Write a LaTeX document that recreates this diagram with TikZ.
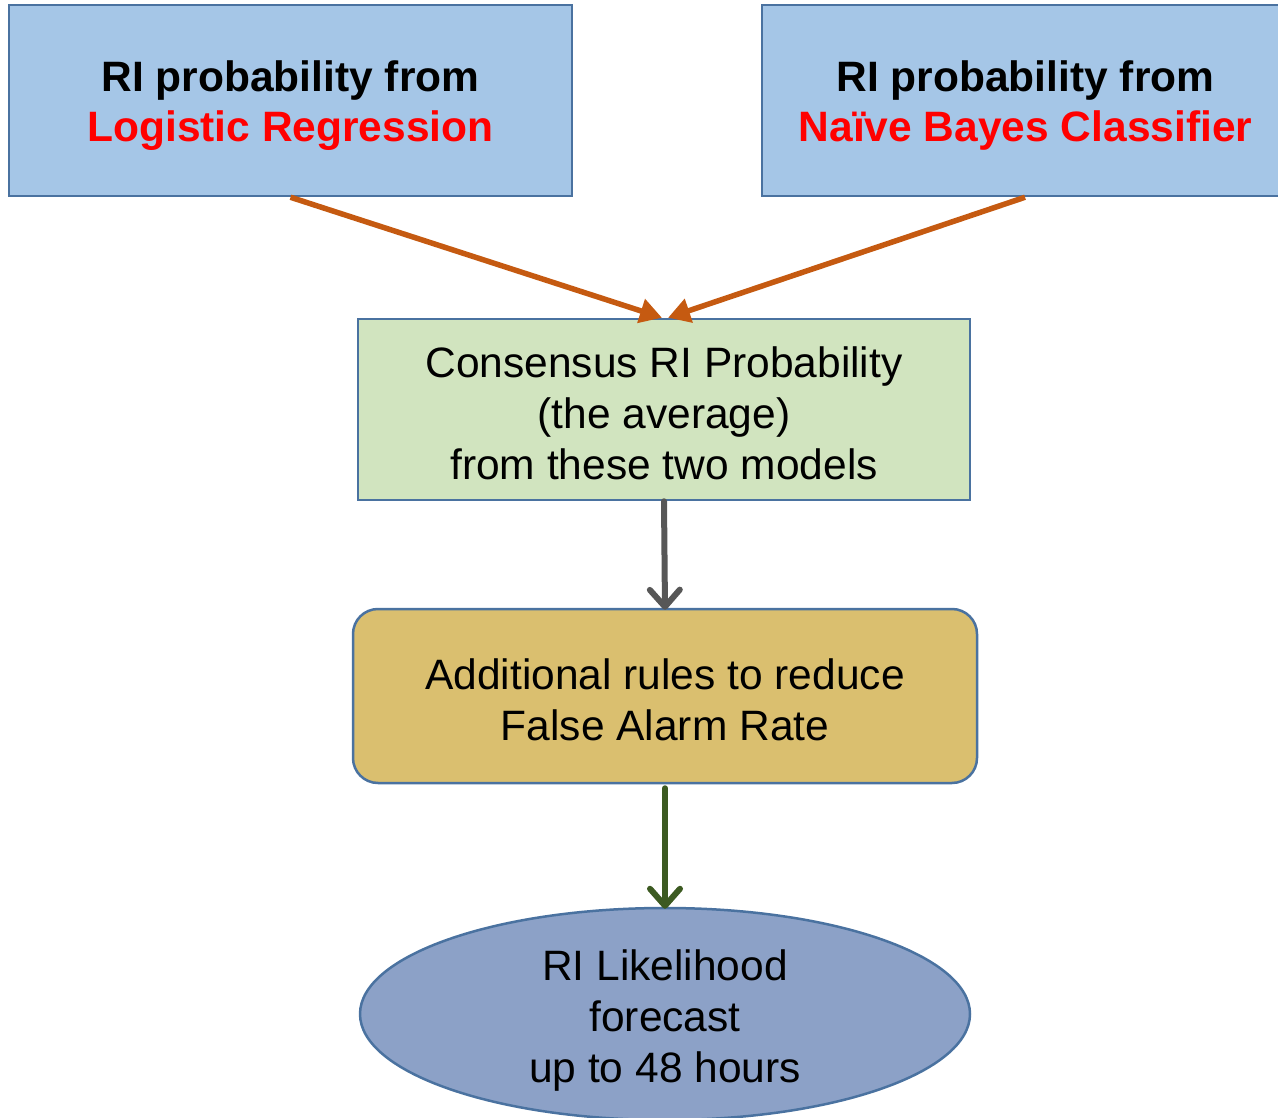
\documentclass[tikz,border=0pt]{standalone}
\usepackage{fontspec}
\setmainfont{Liberation Sans}
\usetikzlibrary{shapes.geometric,arrows.meta}
\definecolor{boxblue}{HTML}{A5C6E7}
\definecolor{edgeblue}{HTML}{4A72A0}
\definecolor{boxgreen}{HTML}{D1E4BF}
\definecolor{boxgold}{HTML}{DABF6F}
\definecolor{ellblue}{HTML}{8CA1C7}
\definecolor{arrorange}{HTML}{C55A11}
\definecolor{arrgray}{HTML}{575757}
\definecolor{arrgreen}{HTML}{3C5A21}
\definecolor{txtred}{HTML}{FF0000}
\tikzset{
  base/.style={draw=edgeblue, line width=2.5pt, inner sep=0pt},
  srcbox/.style={base, rectangle, fill=boxblue, minimum height=191pt},
  consbox/.style={base, rectangle, fill=boxgreen},
  rulebox/.style={base, rectangle, rounded corners=25pt, fill=boxgold},
  outell/.style={base, ellipse, fill=ellblue},
  boldtxt/.style={font=\fontsize{42.5}{50}\selectfont\bfseries, align=center, inner sep=0pt},
  plaintxt/.style={font=\fontsize{42.5}{51}\selectfont, align=center, inner sep=0pt},
  orangearr/.style={draw=arrorange, line width=5.5pt, -{Triangle[length=22pt,width=24pt]}},
  grayarr/.style={draw=arrgray, line width=6pt, line cap=round, -{Straight Barb[length=17pt,width=30pt,round]}},
  greenarr/.style={draw=arrgreen, line width=6pt, line cap=round, -{Straight Barb[length=17pt,width=30pt,round]}},
}
\begin{document}
\begin{tikzpicture}[x=1pt,y=-1pt]
\useasboundingbox (0,0) rectangle (1278,1118);
\clip (0,0) rectangle (1278,1118);
\node[srcbox, minimum width=563pt] (lr) at (290.5,100.5) {};
\node[srcbox, minimum width=526pt] (nb) at (1025,100.5) {};
\node[boldtxt] (lrt) at (290.5,106) {RI probability from\\\textcolor{txtred}{Logistic Regression}};
\node[boldtxt] (nbt) at (1025.5,106) {RI probability from\\\textcolor{txtred}{Naïve Bayes Classifier}};
\node[consbox, minimum width=612pt, minimum height=181pt] (cons) at (664,409.5) {};
\node[plaintxt] (const) at (664,413) {Consensus RI Probability\\(the average)\\from these two models};
\node[rulebox, minimum width=624pt, minimum height=174pt] (rules) at (665,696) {};
\node[plaintxt] (rulest) at (665,700) {Additional rules to reduce\\False Alarm Rate};
\node[outell, minimum width=610pt, minimum height=212pt] (fc) at (665,1014) {};
\node[plaintxt] (fct) at (665,1020.5) {RI Likelihood\\forecast\\up to 48 hours};
\draw[orangearr] (lr.south) -- ([xshift=-2pt]cons.north);
\draw[orangearr] (nb.south) -- ([xshift=4pt]cons.north);
\draw[grayarr] (cons.south) -- ([yshift=-2pt]rules.north);
\draw[greenarr] ([yshift=-4pt]rules.south) -- ([yshift=-2pt]fc.north);
\end{tikzpicture}
\end{document}
